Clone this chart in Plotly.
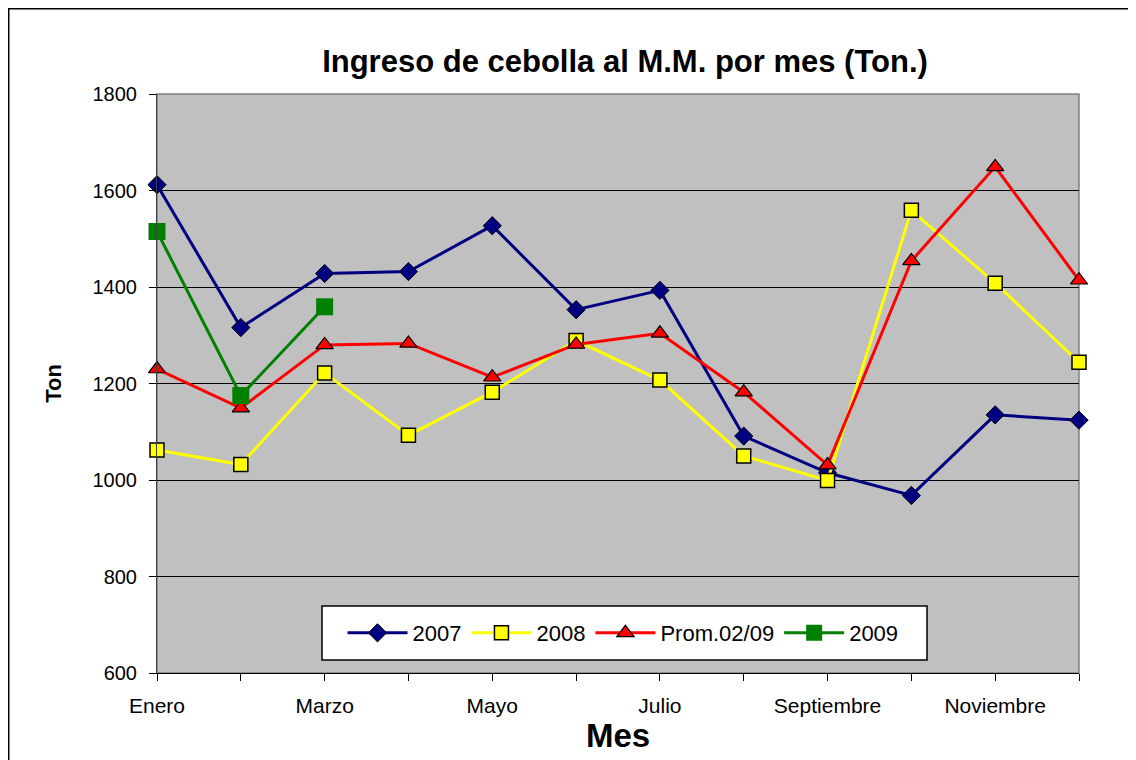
import plotly.graph_objects as go

months = ["Enero", "Febrero", "Marzo", "Abril", "Mayo", "Junio", "Julio",
          "Agosto", "Septiembre", "Octubre", "Noviembre", "Diciembre"]
tick_text = ["Enero", "", "Marzo", "", "Mayo", "", "Julio", "",
             "Septiembre", "", "Noviembre", ""]

v2007 = [1612, 1316, 1428, 1432, 1527, 1353, 1393, 1091, 1015, 968, 1135, 1124]
v2008 = [1062, 1032, 1222, 1093, 1182, 1289, 1207, 1050, 999, 1559, 1408, 1244]
vprom = [1230, 1149, 1280, 1283, 1213, 1281, 1304, 1182, 1031, 1454, 1649, 1414]
v2009 = [1515, 1175, 1359]

FONT = "Arial, Liberation Sans, sans-serif"

fig = go.Figure()
fig.add_trace(go.Scatter(
    x=months, y=v2007, name="2007", mode="lines+markers",
    line=dict(color="#000080", width=3),
    marker=dict(symbol="diamond", size=14, color="#000080",
                line=dict(color="#000000", width=1)),
    cliponaxis=False))
fig.add_trace(go.Scatter(
    x=months, y=v2008, name="2008", mode="lines+markers",
    line=dict(color="#FFFF00", width=3),
    marker=dict(symbol="square", size=14, color="#FFFF00",
                line=dict(color="#000000", width=1.5)),
    cliponaxis=False))
fig.add_trace(go.Scatter(
    x=months, y=vprom, name="Prom.02/09", mode="lines+markers",
    line=dict(color="#FF0000", width=3),
    marker=dict(symbol="triangle-up", size=15, color="#FF0000",
                line=dict(color="#000000", width=1.2)),
    cliponaxis=False))
fig.add_trace(go.Scatter(
    x=months[:len(v2009)], y=v2009, name="2009", mode="lines+markers",
    line=dict(color="#008000", width=3),
    marker=dict(symbol="square", size=17, color="#008000",
                line=dict(color="#008000", width=0)),
    cliponaxis=False))

# page body has an 8px margin: work in page pixels and shift by 8
OFF = 8
W, H = 1136 - OFF, 760 - OFF
L = 157 - OFF
R = W - (1079 - OFF)
T = 94 - OFF
B = H - (673 - OFF)
pw, ph = W - L - R, H - T - B


def px(x):  # page pixel x -> paper
    return (x - OFF - L) / pw


def py(y):  # page pixel y -> paper
    return (H - B - (y - OFF)) / ph


fig.update_layout(
    width=W, height=H,
    margin=dict(l=L, r=R, t=T, b=B, pad=0),
    paper_bgcolor="white",
    plot_bgcolor="#C0C0C0",
    font=dict(family=FONT, color="black"),
    title=dict(text="<b>Ingreso de cebolla al M.M. por mes (Ton.)</b>",
               x=px(625), xanchor="center", xref="paper",
               y=1 - (61 - OFF) / H, yanchor="middle",
               font=dict(size=31, family=FONT)),
    showlegend=True,
    legend=dict(orientation="h", x=px(623), xanchor="center",
                y=py(633), yanchor="middle",
                bgcolor="rgba(0,0,0,0)", borderwidth=0,
                font=dict(size=22, family=FONT),
                itemwidth=60,
                itemsizing="trace"),
    xaxis=dict(type="category", range=[0, 11],
               tickmode="array", tickvals=months, ticktext=tick_text,
               ticks="outside", ticklen=7, tickcolor="black", tickwidth=1,
               showline=True, linecolor="black", linewidth=1,
               showgrid=False, zeroline=False,
               tickfont=dict(size=21, family=FONT),
               ticklabelstandoff=7,
               title=dict(text="<b>Mes</b>", font=dict(size=33, family=FONT),
                          standoff=2)),
    yaxis=dict(range=[600, 1800], dtick=200, tick0=600,
               ticks="outside", ticklen=7, tickcolor="black", tickwidth=1,
               showline=True, linecolor="#404040", linewidth=1,
               showgrid=True, gridcolor="black", gridwidth=1,
               zeroline=False,
               tickfont=dict(size=20, family=FONT),
               ticklabelstandoff=8,
               title=dict(text="<b>Ton</b>", font=dict(size=22, family=FONT),
                          standoff=24)),
    shapes=[
        # plot area border (gray)
        dict(type="rect", xref="paper", yref="paper", x0=0, x1=1, y0=0, y1=1,
             line=dict(color="#808080", width=1.5), layer="below"),
        # legend box
        dict(type="rect", xref="paper", yref="paper",
             x0=px(322), x1=px(927), y0=py(660), y1=py(606),
             fillcolor="white", line=dict(color="black", width=1.5),
             layer="above"),
        # outer chart border extending past the image edges
        dict(type="rect", xref="paper", yref="paper",
             x0=px(OFF + 0.5), x1=px(1160), y0=py(790), y1=py(OFF + 0.5),
             line=dict(color="black", width=2), layer="above"),
    ],
)

fig.write_html("out.html")
